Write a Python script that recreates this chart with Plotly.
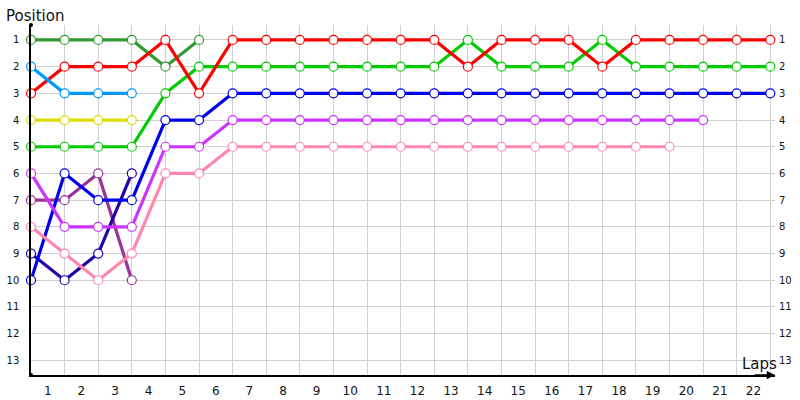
import plotly.graph_objects as go

laps = list(range(0, 23))
lap_labels = [str(i) for i in range(1, 23)]
positions = list(range(1, 14))

series_names = ["Dark green", "Red", "Green", "Light blue", "Yellow", "Blue",
                "Indigo", "Violet", "Purple", "Pink"]
series_colors = ["#339933", "#ff0000", "#00cc00", "#0099ff", "#dddd00", "#0000ee",
                 "#2200aa", "#cc33ff", "#993399", "#ff88aa"]
series_values = [
    [1, 1, 1, 1, 2, 1],
    [3, 2, 2, 2, 1, 3, 1, 1, 1, 1, 1, 1, 1, 2, 1, 1, 1, 2, 1, 1, 1, 1, 1],
    [5, 5, 5, 5, 3, 2, 2, 2, 2, 2, 2, 2, 2, 1, 2, 2, 2, 1, 2, 2, 2, 2, 2],
    [2, 3, 3, 3],
    [4, 4, 4, 4],
    [10, 6, 7, 7, 4, 4, 3, 3, 3, 3, 3, 3, 3, 3, 3, 3, 3, 3, 3, 3, 3, 3, 3],
    [9, 10, 9, 6],
    [6, 8, 8, 8, 5, 5, 4, 4, 4, 4, 4, 4, 4, 4, 4, 4, 4, 4, 4, 4, 4],
    [7, 7, 6, 10],
    [8, 9, 10, 9, 6, 6, 5, 5, 5, 5, 5, 5, 5, 5, 5, 5, 5, 5, 5, 5],
]

FONT = "DejaVu Sans"
XR = [0, 22.14]
YR = [13.55, 0.44]

fig = go.Figure()
# invisible trace to activate grid axes
fig.add_trace(go.Scatter(x=laps, y=[None] * len(laps), xaxis="x2", yaxis="y2",
                         showlegend=False, hoverinfo="skip"))

draw_order = [0, 2, 1, 3, 4, 8, 6, 5, 7, 9]
for i in draw_order:
    vals = series_values[i]
    fig.add_trace(go.Scatter(
        x=laps[:len(vals)], y=vals, mode="lines+markers", name=series_names[i],
        line=dict(color=series_colors[i], width=3.2),
        marker=dict(size=9, color="white", line=dict(color=series_colors[i], width=1.2)),
        cliponaxis=False, showlegend=False,
    ))

fig.update_layout(
    width=800, height=400,
    margin=dict(l=31, r=25, t=25, b=25),
    paper_bgcolor="white", plot_bgcolor="white",
    showlegend=False,
    xaxis=dict(range=XR, tickvals=[l + 0.5 for l in laps[:22]], ticktext=lap_labels,
               showgrid=False, zeroline=False, showline=True, linecolor="black",
               linewidth=1.5, ticks="", tickfont=dict(family=FONT, size=12, color="#111"),
               ticklabelstandoff=4, automargin=False),
    yaxis=dict(range=YR, tickvals=positions, showgrid=True, gridcolor="#d0d0d0",
               gridwidth=1, zeroline=False, showline=True, linecolor="black",
               linewidth=1.5, ticks="", tickfont=dict(family=FONT, size=10, color="#111"),
               ticklabelstandoff=8, automargin=False),
    xaxis2=dict(range=XR, overlaying="x", tickvals=laps, showgrid=True,
                gridcolor="#d0d0d0", gridwidth=1, showticklabels=False,
                zeroline=False, showline=False, ticks="", automargin=False),
    yaxis2=dict(range=YR, overlaying="y", side="right", tickvals=positions,
                showgrid=False, zeroline=False, showline=False, ticks="",
                tickfont=dict(family=FONT, size=10, color="#111"), ticklabelstandoff=3,
                automargin=False),
    font=dict(family=FONT),
)

fig.add_annotation(xref="paper", yref="paper", x=1.0, y=0, ax=-22, ay=0,
                   text="", showarrow=True, arrowhead=2, arrowsize=1.1,
                   arrowwidth=1.5, arrowcolor="black")
fig.add_annotation(xref="paper", yref="paper", x=-0.036, y=1.0, xanchor="left",
                   yanchor="bottom", yshift=-2, text="Position", showarrow=False,
                   font=dict(family=FONT, size=15, color="#111"))
fig.add_annotation(xref="paper", yref="paper", x=1.0, y=0, xanchor="right",
                   yanchor="bottom", yshift=0, xshift=4, text="Laps", showarrow=False,
                   font=dict(family=FONT, size=15, color="#111"))
for yy in [0, 1]:
    fig.add_shape(type="circle", xref="paper", yref="paper", xsizemode="pixel",
                  ysizemode="pixel", xanchor=0, yanchor=yy, x0=-2, x1=2, y0=-2, y1=2,
                  fillcolor="black", line=dict(width=0))

fig.write_html("out.html", config={"displayModeBar": False},
               post_script="document.body.style.margin='0px';")
